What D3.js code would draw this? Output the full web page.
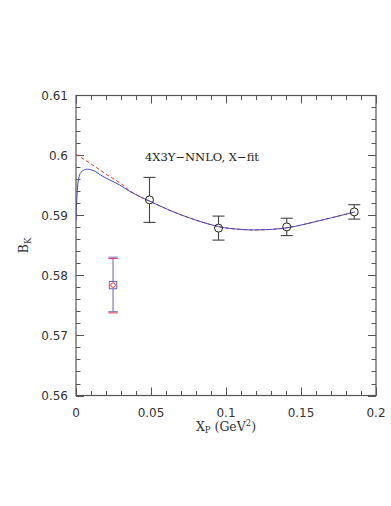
<!DOCTYPE html>
<html><head><meta charset="utf-8">
<script src="https://cdn.jsdelivr.net/npm/d3@7"></script>
<style>body{margin:0;background:#fff}</style></head>
<body>
<script>
// ---- data ----
const xTicks = [0, 0.05, 0.1, 0.15, 0.2];
const xTickLabels = ["0", "0.05", "0.1", "0.15", "0.2"];
const yTicks = [0.56, 0.57, 0.58, 0.59, 0.6, 0.61];
const yTickLabels = ["0.56", "0.57", "0.58", "0.59", "0.6", "0.61"];

const dataX = [0.049, 0.095, 0.1405, 0.1855];
const dataY = [0.5926, 0.5879, 0.5881, 0.5906];
const dataErr = [0.00375, 0.0020, 0.00145, 0.0012];

const physX = [0.0247];
const physY = [0.5784];
const physErr = [0.00453];

const fitX = [0, 0.0004, 0.0009, 0.0018, 0.0033, 0.0067, 0.0115, 0.018, 0.029, 0.036, 0.043, 0.049, 0.069, 0.095, 0.109, 0.122, 0.1405, 0.165, 0.186];
const fitY = [0.5892, 0.5920, 0.5942, 0.5962, 0.5972, 0.5977, 0.5975, 0.5965, 0.5951, 0.5940, 0.5931, 0.5924, 0.5902, 0.58815, 0.5877, 0.5876, 0.58795, 0.5893, 0.5906];

const chiX = [0, 0.01, 0.02, 0.03, 0.036, 0.043, 0.049, 0.069, 0.095, 0.109, 0.122, 0.1405, 0.165, 0.186];
const chiY = [0.6002, 0.5986, 0.5969, 0.5953, 0.5941, 0.5931, 0.5924, 0.5902, 0.58815, 0.5877, 0.5876, 0.58795, 0.5893, 0.5906];

const annotation = "4X3Y\u2212NNLO, X\u2212fit";

// ---- layout ----
const W = 391, H = 506;
const L = 76, T = 95.5, PW = 300, PH = 300;

const svg = d3.select("body").append("svg").attr("width", W).attr("height", H);

const x = d3.scaleLinear().domain([0, 0.2]).range([L, L + PW]);
const y = d3.scaleLinear().domain([0.56, 0.61]).range([T + PH, T]);

const axisColor = "#555";
const labelColor = "#333";

// minor / major ticks on all 4 sides (inward)
const xMinor = d3.range(0, 0.2001, 0.01);
const yMinor = d3.range(0.56, 0.6101, 0.002);
const isMajorX = v => Math.abs(v / 0.05 - Math.round(v / 0.05)) < 1e-6;
const isMajorY = v => Math.abs((v - 0.56) / 0.01 - Math.round((v - 0.56) / 0.01)) < 1e-6;

const tg = svg.append("g").attr("stroke", axisColor).attr("stroke-width", 1);
xMinor.forEach(v => {
  const len = isMajorX(v) ? 8 : 4.5;
  const px = Math.round(x(v)) + 0.5;
  tg.append("line").attr("x1", px).attr("x2", px).attr("y1", T + PH).attr("y2", T + PH - len);
  tg.append("line").attr("x1", px).attr("x2", px).attr("y1", T).attr("y2", T + len);
});
yMinor.forEach(v => {
  const len = isMajorY(v) ? 8 : 4.5;
  const py = Math.round(y(v)) + 0.5;
  tg.append("line").attr("y1", py).attr("y2", py).attr("x1", L).attr("x2", L + len);
  tg.append("line").attr("y1", py).attr("y2", py).attr("x1", L + PW).attr("x2", L + PW - len);
});

// frame
svg.append("rect").attr("x", L).attr("y", T).attr("width", PW).attr("height", PH)
  .attr("fill", "none").attr("stroke", axisColor).attr("stroke-width", 1.2);

// tick labels
svg.append("g").selectAll("text").data(xTicks).join("text")
  .attr("x", d => x(d)).attr("y", T + PH + 21)
  .attr("text-anchor", "middle")
  .attr("font-family", "DejaVu Sans").attr("font-size", 12).attr("fill", labelColor)
  .text((d, i) => xTickLabels[i]);
svg.append("g").selectAll("text").data(yTicks).join("text")
  .attr("x", L - 8).attr("y", d => y(d) + 4.5)
  .attr("text-anchor", "end")
  .attr("font-family", "DejaVu Sans").attr("font-size", 12).attr("fill", labelColor)
  .text((d, i) => yTickLabels[i]);

// axis titles
const xt = svg.append("text").attr("x", L + PW / 2).attr("y", 430.5)
  .attr("text-anchor", "middle").attr("font-family", "DejaVu Serif")
  .attr("font-size", 12.5).attr("fill", labelColor);
xt.append("tspan").text("X");
xt.append("tspan").attr("font-size", 8.5).attr("dy", 2.5).text("P");
xt.append("tspan").attr("dy", -2.5).text(" (GeV");
xt.append("tspan").attr("font-size", 8.5).attr("dy", -5).text("2");
xt.append("tspan").attr("dy", 5).text(")");

const yt = svg.append("text").attr("transform", `translate(28,${T + PH / 2}) rotate(-90)`)
  .attr("text-anchor", "middle").attr("font-family", "DejaVu Serif")
  .attr("font-size", 12.5).attr("fill", labelColor);
yt.append("tspan").text("B");
yt.append("tspan").attr("font-size", 8.5).attr("dy", 2.5).text("K");

// annotation
svg.append("text").attr("x", 145).attr("y", 160.5)
  .attr("font-family", "DejaVu Serif").attr("font-size", 11.5).attr("fill", "#222")
  .text(annotation);

// curves
const line = d3.line().x(d => x(d[0])).y(d => y(d[1])).curve(d3.curveCatmullRom.alpha(0.5));
svg.append("clipPath").attr("id", "pc").append("rect")
  .attr("x", L).attr("y", T).attr("width", PW).attr("height", PH);

svg.append("path").datum(chiX.map((v, i) => [v, chiY[i]]))
  .attr("d", line).attr("fill", "none").attr("stroke", "#e8342f")
  .attr("stroke-width", 1).attr("stroke-dasharray", "3.5,2.5")
  .attr("clip-path", "url(#pc)");
svg.append("path").datum(fitX.map((v, i) => [v, fitY[i]]))
  .attr("d", line).attr("fill", "none").attr("stroke", "#4848b8")
  .attr("stroke-width", 1).attr("clip-path", "url(#pc)");

// data points with error bars
const errCol = "#444";
const pts = svg.append("g");
dataX.forEach((v, i) => {
  const cx = x(v), cy = y(dataY[i]);
  const yt1 = y(dataY[i] + dataErr[i]), yb = y(dataY[i] - dataErr[i]);
  pts.append("line").attr("x1", cx).attr("x2", cx).attr("y1", yt1).attr("y2", cy - 4)
    .attr("stroke", errCol).attr("stroke-width", 1.1);
  pts.append("line").attr("x1", cx).attr("x2", cx).attr("y1", cy + 4).attr("y2", yb)
    .attr("stroke", errCol).attr("stroke-width", 1.1);
  [yt1, yb].forEach(yy => pts.append("line").attr("x1", cx - 6).attr("x2", cx + 6)
    .attr("y1", yy).attr("y2", yy).attr("stroke", errCol).attr("stroke-width", 1.1));
  pts.append("circle").attr("cx", cx).attr("cy", cy).attr("r", 4)
    .attr("fill", "none").attr("stroke", "#222").attr("stroke-width", 1);
});

// physical point
physX.forEach((v, i) => {
  const cx = x(v), cy = y(physY[i]);
  const yt1 = y(physY[i] + physErr[i]), yb = y(physY[i] - physErr[i]);
  pts.append("line").attr("x1", cx).attr("x2", cx).attr("y1", yt1).attr("y2", yb)
    .attr("stroke", "#8a84cc").attr("stroke-width", 1.3);
  [yt1, yb].forEach(yy => {
    pts.append("line").attr("x1", cx - 4.7).attr("x2", cx + 4.7)
      .attr("y1", yy - 0.7).attr("y2", yy - 0.7).attr("stroke", "#8a84cc").attr("stroke-width", 1.2);
    pts.append("line").attr("x1", cx - 4.7).attr("x2", cx + 4.7)
      .attr("y1", yy + 0.6).attr("y2", yy + 0.6).attr("stroke", "#e8506a").attr("stroke-width", 1.2);
  });
  pts.append("rect").attr("x", cx - 3.7).attr("y", cy - 3.7).attr("width", 7.4).attr("height", 7.4)
    .attr("fill", "#fff").attr("stroke", "#6a64c0").attr("stroke-width", 1);
  pts.append("circle").attr("cx", cx).attr("cy", cy).attr("r", 2.3)
    .attr("fill", "none").attr("stroke", "#e8342f").attr("stroke-width", 1);
});
</script>
</body></html>
